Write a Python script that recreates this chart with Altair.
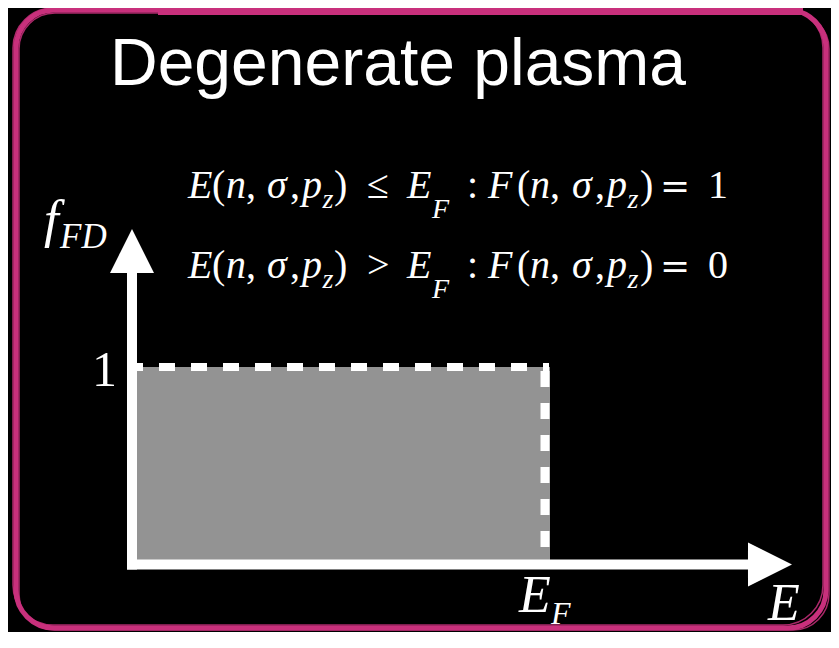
import altair as alt
import pandas as pd

# ---------------- values ----------------
E_F = 1.0            # Fermi energy (x position of the step)
F_LEVEL = 1.0        # occupation below E_F
E_ARROW_BASE = 1.489
E_ARROW_TIP = 1.598
F_ARROW_BASE = 1.4775
F_ARROW_TIP = 1.699

title_text = "Degenerate plasma"
relations = ["≤", ">"]
rhs_values = ["1", "0"]
tick_label = "1"
x_axis_label = "E"
y_axis_main, y_axis_sub = "f", "FD"
ef_main, ef_sub = "E", "F"

# tokens of the condition lines: (text, style, kind)  kind: 0 main, 1 sub z, 2 sub F
# style: "it" italic serif, "up" upright serif, "eq" wide equals sign
eq_tokens = [("E", "it", 0), ("(", "up", 0), ("n", "it", 0), (",", "up", 0),
             ("σ", "it", 0), (",", "up", 0), ("p", "it", 0), ("z", "it", 1),
             (")", "up", 0), ("REL", "up", 0), ("E", "it", 0), ("F", "it", 2),
             (":", "up", 0), ("F", "it", 0), ("(", "up", 0), ("n", "it", 0),
             (",", "up", 0), ("σ", "it", 0), (",", "up", 0), ("p", "it", 0),
             ("z", "it", 1), (")", "up", 0), ("=", "eq", 0), ("RHS", "up", 0)]

# ---------------- layout (pixels in page coords) ----------------
OFF = 8  # page margin
eq_x = [188, 212, 226, 246, 267, 290, 302, 322.5, 334, 367, 407, 432,
        467, 488, 517, 530, 550, 572, 595, 607, 627.5, 640, 660, 708]
eq_base = [198.3, 278.3]
sub_drop = {0: 0, 1: 10, 2: 20}
tok_size = {0: 40, 1: 28, 2: 28}

PINK = "#C8307C"
GRAY = "#939393"

rows = {"it": [], "up": [], "eq": []}
for li in range(2):
    for (t, st, kind), x in zip(eq_tokens, eq_x):
        if t == "REL":
            t = relations[li]
        if t == "RHS":
            t = rhs_values[li]
        fs = 36 if st == "eq" else tok_size[kind]
        rows[st].append({"t": t, "px": x - OFF, "py": eq_base[li] + sub_drop[kind] - OFF, "fs": fs})

# axis labels
rows["it"] += [
    {"t": y_axis_main, "px": 44 - OFF, "py": 237 - OFF, "fs": 53},
    {"t": y_axis_sub, "px": 60 - OFF, "py": 248 - OFF, "fs": 35},
    {"t": ef_main, "px": 519 - OFF, "py": 612 - OFF, "fs": 52},
    {"t": ef_sub, "px": 551 - OFF, "py": 624 - OFF, "fs": 32},
    {"t": x_axis_label, "px": 768 - OFF, "py": 620 - OFF, "fs": 52},
]
rows["up"] += [{"t": tick_label, "px": 92 - OFF, "py": 386 - OFF, "fs": 50}]
rows_title = [{"t": title_text, "px": 110 - OFF, "py": 85 - OFF, "fs": 66}]

W, H = 823, 624
xs = alt.Scale(domain=[-0.300242, 1.692494], nice=False, zero=False)
ys = alt.Scale(domain=[-0.341772, 2.817722], nice=False, zero=False)

one = pd.DataFrame({"a": [0]})

# ---------------- border ----------------
border = alt.Chart(one).mark_rect(fillOpacity=0, stroke=PINK, strokeWidth=5, cornerRadius=38).encode(
    x=alt.value(8), x2=alt.value(818), y=alt.value(2), y2=alt.value(620))
border2 = alt.Chart(one).mark_rect(fillOpacity=0, stroke=PINK, strokeWidth=1.5, cornerRadius=36, opacity=0.85).encode(
    x=alt.value(11), x2=alt.value(821), y=alt.value(5), y2=alt.value(622))
border3 = alt.Chart(one).mark_rect(fillOpacity=0, stroke=PINK, strokeWidth=1.5, cornerRadius=40, opacity=0.85).encode(
    x=alt.value(5), x2=alt.value(815), y=alt.value(0), y2=alt.value(617))
top_band = alt.Chart(one).mark_rule(stroke=PINK, strokeWidth=12).encode(
    x=alt.value(150), x2=alt.value(795), y=alt.value(1))

# ---------------- diagram ----------------
box_df = pd.DataFrame({"E0": [0.0], "E1": [E_F], "f0": [0.0], "f1": [F_LEVEL]})
rect = alt.Chart(box_df).mark_rect(color=GRAY, x2Offset=5).encode(
    x=alt.X("E0:Q", scale=xs, axis=None), x2="E1:Q",
    y=alt.Y("f0:Q", scale=ys, axis=None), y2="f1:Q")

hdash = alt.Chart(box_df).mark_rule(color="white", strokeWidth=8, strokeDash=[16, 16],
                                    strokeDashOffset=5, x2Offset=4).encode(
    x=alt.X("E0:Q", scale=xs, axis=None), x2="E1:Q",
    y=alt.Y("f1:Q", scale=ys, axis=None))
vdash = alt.Chart(box_df).mark_rule(color="white", strokeWidth=9, strokeDash=[16, 16],
                                    strokeDashOffset=28).encode(
    x=alt.X("E1:Q", scale=xs, axis=None),
    y=alt.Y("f1:Q", scale=ys, axis=None), y2="f0:Q")

axes_df = pd.DataFrame({"E0": [0.0], "Eb": [E_ARROW_BASE], "f0": [0.0], "fb": [F_ARROW_BASE]})
xaxis = alt.Chart(axes_df).mark_rule(color="white", strokeWidth=10, strokeCap="square").encode(
    x=alt.X("E0:Q", scale=xs, axis=None), x2="Eb:Q",
    y=alt.Y("f0:Q", scale=ys, axis=None))
yaxis = alt.Chart(axes_df).mark_rule(color="white", strokeWidth=10, strokeCap="square").encode(
    x=alt.X("E0:Q", scale=xs, axis=None),
    y=alt.Y("f0:Q", scale=ys, axis=None), y2="fb:Q")

tips_up = pd.DataFrame({"E": [0.0], "f": [F_ARROW_TIP]})
tips_right = pd.DataFrame({"E": [E_ARROW_TIP], "f": [0.0]})
head_up = alt.Chart(tips_up).mark_point(shape="M0,0L-1,2L1,2Z", size=1936, filled=True,
                                        fill="white", opacity=1, strokeWidth=0).encode(
    x=alt.X("E:Q", scale=xs, axis=None), y=alt.Y("f:Q", scale=ys, axis=None))
head_right = alt.Chart(tips_right).mark_point(shape="M0,0L-2,-1L-2,1Z", size=1936, filled=True,
                                              fill="white", opacity=1, strokeWidth=0).encode(
    x=alt.X("E:Q", scale=xs, axis=None), y=alt.Y("f:Q", scale=ys, axis=None))

# ---------------- text ----------------
def text_layer(rws, font, style):
    return alt.Chart(pd.DataFrame(rws)).mark_text(
        font=font, fontStyle=style, color="white", align="left", baseline="alphabetic").encode(
        x=alt.X("px:Q", scale=None, axis=None),
        y=alt.Y("py:Q", scale=None, axis=None),
        size=alt.Size("fs:Q", scale=None, legend=None),
        text="t:N")

t_it = text_layer(rows["it"], "Liberation Serif", "italic")
t_up = text_layer(rows["up"], "Liberation Serif", "normal")
t_eq = text_layer(rows["eq"], "DejaVu Serif", "normal")
t_title = text_layer(rows_title, "Liberation Sans", "normal")

chart = alt.layer(
    border3, border2, border, top_band,
    rect, hdash, vdash, xaxis, yaxis, head_up, head_right,
    t_it, t_up, t_eq, t_title
).resolve_scale(x="independent", y="independent", size="independent").properties(
    width=W, height=H, padding=0,
    autosize=alt.AutoSizeParams(type="none"),
    background="black"
).configure_view(strokeWidth=0)

chart.save("out.html", embed_options={"renderer": "svg", "actions": False})
